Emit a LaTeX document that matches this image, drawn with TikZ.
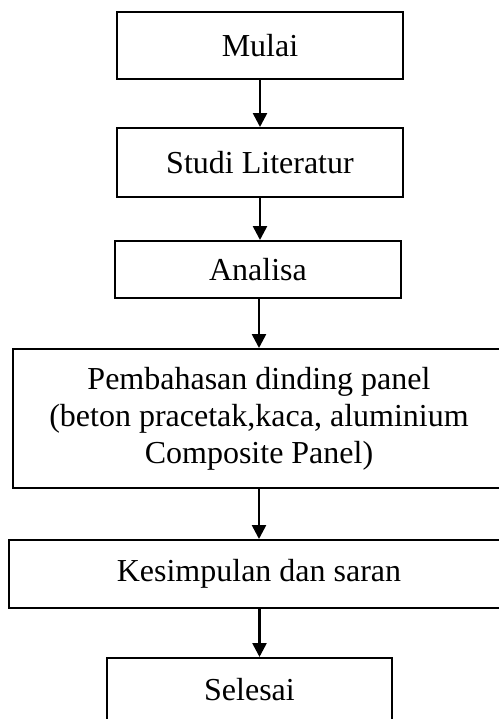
\documentclass[tikz,border=0pt]{standalone}
\usepackage{fontspec}
\setmainfont{Liberation Serif}
\usetikzlibrary{arrows.meta}

\tikzset{
  box/.style={draw,line width=1pt,inner sep=0pt,align=center,
    font=\fontsize{16}{18.5}\selectfont},
  flow/.style={line width=1.3pt,-{Triangle[length=7pt,width=7pt]}}
}

\begin{document}
\begin{tikzpicture}[x=0.5pt,y=-0.5pt]

\useasboundingbox (0,0) rectangle (499,719);
\clip (0,0) rectangle (499,719);

\node[box,minimum width=143pt,minimum height=33.5pt] (mulai) at (260,45.5) {Mulai};
\node[box,minimum width=143pt,minimum height=34.5pt] (studi) at (260,162.5) {Studi Literatur};
\node[box,minimum width=143pt,minimum height=28.5pt] (analisa) at (258,269.5) {Analisa};
\node[box,minimum width=246pt,minimum height=69.5pt] (bahas) at (259,418.5)
  {Pembahasan dinding panel\\(beton pracetak,kaca, aluminium\\Composite Panel)};
\node[box,minimum width=250pt,minimum height=34pt] (simpul) at (259,574) {Kesimpulan dan saran};
\node[box,minimum width=142.5pt,minimum height=32pt] (selesai) at (249.5,690) {Selesai};

\draw[flow] (mulai.south) -- (studi.north);
\draw[flow] (studi.south) -- (studi.south |- analisa.north);
\draw[flow] ([xshift=0.5pt]analisa.south) -- ([xshift=0.5pt]analisa.south |- bahas.north);
\draw[flow] (bahas.south) -- (simpul.north);
\draw[flow] ([xshift=5pt]selesai.north |- simpul.south) -- ([xshift=5pt]selesai.north);

\end{tikzpicture}
\end{document}
